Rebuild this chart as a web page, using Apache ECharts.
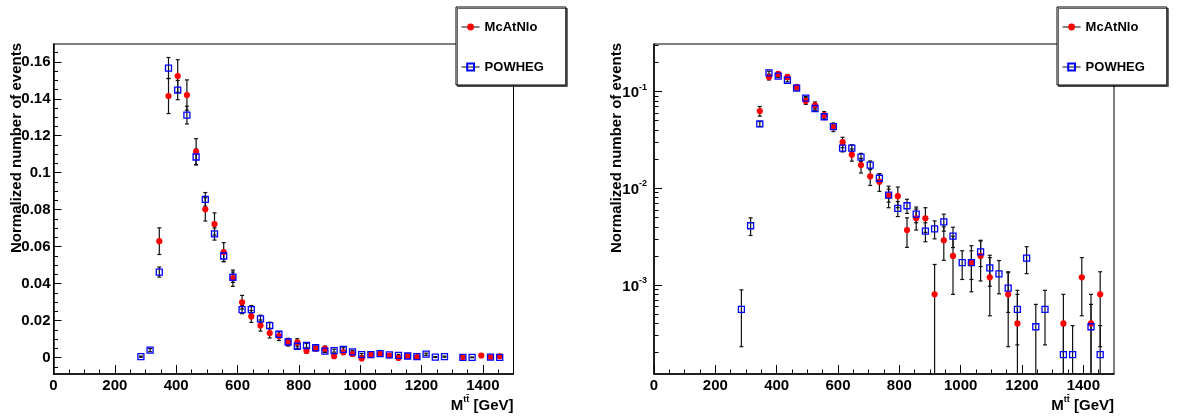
<!DOCTYPE html>
<html><head><meta charset="utf-8">
<script src="https://cdn.jsdelivr.net/npm/echarts@6/dist/echarts.min.js"></script>
<style>html,body{margin:0;padding:0;background:#fff}#c{width:1179px;height:419px}</style>
</head><body><div id="c"></div>
<script>
// ---- data (bin centres of M_tt in GeV, normalized counts, errors) ----
const binCenters = [285,315,345,375,405,435,465,495,525,555,585,615,645,675,705,735,765,795,825,855,885,915,945,975,1005,1035,1065,1095,1125,1155,1185,1215,1245,1275,1305,1335,1365,1395,1425,1455];
const mcatnlo    = [null,null,0.063,0.1415,0.1523,0.142,0.1114,0.0802,0.0723,0.0571,0.0430,0.0300,0.0223,0.0174,0.0133,0.0117,0.0084,0.0083,0.0037,0.0049,0.0049,0.0008,0.0029,0.0020,-0.0004,0.0017,0.0020,0.0012,-0.0001,0.0008,0.0004,null,null,null,null,0.0004,null,0.0012,0.0004,0.0008];
const mcatnloErr = [null,null,0.0072,0.0095,0.0088,0.0082,0.0070,0.0063,0.0060,0.0051,0.0044,0.0037,0.0032,0.0030,0.0026,0.0024,0.0021,0.0020,0.00125,0.0012,0.0014,0.00083,0.0011,0.0012,0.0004,0.00085,0.0009,0.00072,0.0001,0.00057,0.0004,null,null,null,null,0.0004,null,0.00072,0.0004,0.00057];
const powheg     = [0.00056,0.0041,0.0463,0.1566,0.1447,0.1312,0.1085,0.0856,0.0669,0.0550,0.0435,0.0260,0.0260,0.0210,0.0174,0.0127,0.0085,0.0062,0.0066,0.0054,0.0036,0.0038,0.0045,0.0032,0.0017,0.0017,0.0022,0.0015,0.0013,0.00093,0.00056,0.0019,0.00037,0.00056,null,0.00019,0.00019,null,0.00037,0.00019];
const powhegErr  = [0.00033,0.00085,0.0027,0.0057,0.0052,0.0048,0.0043,0.0037,0.0033,0.0031,0.0028,0.0022,0.0022,0.0020,0.0018,0.0015,0.0013,0.0011,0.0011,0.0010,0.0008,0.0008,0.0009,0.00076,0.00056,0.00056,0.00065,0.00053,0.00049,0.00041,0.00032,0.00059,0.00026,0.00032,null,0.00019,0.00019,null,0.00026,0.00019];
const seriesNames = ['McAtNlo','POWHEG'];
// ---- tick labels ----
const xMajorTicks = [0,200,400,600,800,1000,1200,1400];
const xMinorTicks = [50,100,150,250,300,350,450,500,550,650,700,750,850,900,950,1050,1100,1150,1250,1300,1350,1450];
const yLinMajorTicks = [0,0.02,0.04,0.06,0.08,0.1,0.12,0.14,0.16];
const yLinMinorTicks = [-0.005,0.005,0.01,0.015,0.025,0.03,0.035,0.045,0.05,0.055,0.065,0.07,0.075,0.085,0.09,0.095,0.105,0.11,0.115,0.125,0.13,0.135,0.145,0.15,0.155,0.165];
const yLogMajorTicks = [0.001,0.01,0.1];
const yLogMinorTicks = [0.0002,0.0003,0.0004,0.0005,0.0006,0.0007,0.0008,0.0009,0.002,0.003,0.004,0.005,0.006,0.007,0.008,0.009,0.02,0.03,0.04,0.05,0.06,0.07,0.08,0.09,0.2,0.3];
const xTitle = 'M';
const xTitleSup = 'tt\u0304';
const xTitleUnit = ' [GeV]';
const yTitle = 'Normalized number of events';

const LIN_MIN = -0.0088, LIN_MAX = 0.1696;
const LOG_MIN = 0.00012, LOG_MAX = 0.311;
const FONT = '"Liberation Sans", Arial, Helvetica, sans-serif';

function pts(vals, log) {
  const out = [];
  binCenters.forEach((x, i) => { const v = vals[i]; if (v == null) return; if (log && v <= 0) return; out.push([x, v]); });
  return out;
}
function errPts(vals, errs) {
  const out = [];
  binCenters.forEach((x, i) => { const v = vals[i]; if (v == null || errs[i] == null) return; out.push([x, v, errs[i]]); });
  return out;
}
function makeErr(log) {
  return function (params, api) {
    const x = api.value(0), v = api.value(1), e = api.value(2);
    let hi = v + e, lo = v - e, clampLo = false;
    if (log) { if (hi <= LOG_MIN) return; if (lo < LOG_MIN) { lo = LOG_MIN; clampLo = true; } }
    const p1 = api.coord([x, hi]), p2 = api.coord([x, lo]);
    const st = { stroke: '#111', lineWidth: 1.2 };
    const ch = [
      { type: 'line', shape: { x1: p1[0], y1: p1[1], x2: p2[0], y2: p2[1] }, style: st },
      { type: 'line', shape: { x1: p1[0] - 2, y1: p1[1], x2: p1[0] + 2, y2: p1[1] }, style: st }
    ];
    if (!clampLo) ch.push({ type: 'line', shape: { x1: p2[0] - 2, y1: p2[1], x2: p2[0] + 2, y2: p2[1] }, style: st });
    return { type: 'group', children: ch };
  };
}
const labelStyle = { color: '#000', fontFamily: FONT, fontWeight: 'bold', fontSize: 15 };
function xAxes(g) {
  return [
    { type: 'value', gridIndex: g, position: 'bottom', offset: 0, min: 0, max: 1500,
      axisLine: { show: true, onZero: false, lineStyle: { color: '#000', width: 1.5 } },
      axisTick: { show: true, inside: true, length: 9, customValues: xMajorTicks, lineStyle: { color: '#000', width: 1 } },
      axisLabel: Object.assign({ customValues: xMajorTicks, margin: 4, formatter: v => String(v) }, labelStyle),
      splitLine: { show: false } },
    { type: 'value', gridIndex: g, position: 'bottom', offset: 0, min: 0, max: 1500,
      axisLine: { show: false, onZero: false },
      axisTick: { show: true, inside: true, length: 4.5, customValues: xMinorTicks, lineStyle: { color: '#000', width: 1 } },
      axisLabel: { show: false }, splitLine: { show: false } }
  ];
}
const yAxes = [
  { type: 'value', gridIndex: 0, position: 'left', offset: 0, min: LIN_MIN, max: LIN_MAX,
    axisLine: { show: true, onZero: false, lineStyle: { color: '#000', width: 1.5 } },
    axisTick: { show: true, inside: true, length: 8, customValues: yLinMajorTicks, lineStyle: { color: '#000', width: 1 } },
    axisLabel: Object.assign({ customValues: yLinMajorTicks, margin: 3, formatter: v => String(v) }, labelStyle),
    splitLine: { show: false } },
  { type: 'value', gridIndex: 0, position: 'left', offset: 0, min: LIN_MIN, max: LIN_MAX,
    axisLine: { show: false, onZero: false },
    axisTick: { show: true, inside: true, length: 4.5, customValues: yLinMinorTicks, lineStyle: { color: '#000', width: 1 } },
    axisLabel: { show: false }, splitLine: { show: false } },
  { type: 'log', logBase: 10, gridIndex: 1, position: 'left', offset: 0, min: LOG_MIN, max: LOG_MAX,
    axisLine: { show: true, onZero: false, lineStyle: { color: '#000', width: 1.5 } },
    axisTick: { show: true, inside: true, length: 8, customValues: yLogMajorTicks, lineStyle: { color: '#000', width: 1 } },
    axisLabel: { customValues: yLogMajorTicks, margin: 7,
      formatter: v => '{b|10}{s|' + Math.round(Math.log10(v)) + '}',
      rich: {
        b: { color: '#000', fontFamily: FONT, fontWeight: 'bold', fontSize: 15, lineHeight: 18, verticalAlign: 'bottom' },
        s: { color: '#000', fontFamily: FONT, fontWeight: 'bold', fontSize: 9, lineHeight: 10, verticalAlign: 'top' }
      } },
    splitLine: { show: false } },
  { type: 'log', logBase: 10, gridIndex: 1, position: 'left', offset: 0, min: LOG_MIN, max: LOG_MAX,
    axisLine: { show: false, onZero: false },
    axisTick: { show: true, inside: true, length: 4.5, customValues: yLogMinorTicks, lineStyle: { color: '#000', width: 1 } },
    axisLabel: { show: false }, splitLine: { show: false } }
];

const redStyle = { color: '#ff0000' };
const blueStyle = { color: 'rgba(0,0,0,0)', borderColor: '#0000ff', borderWidth: 1.3 };
function markerSeries(name, data, xi, yi, isBlue) {
  return { type: 'line', name: name, data: data, xAxisIndex: xi, yAxisIndex: yi,
    symbol: isBlue ? 'rect' : 'circle', symbolSize: isBlue ? 6 : 6.2, showSymbol: true,
    color: isBlue ? '#0000ff' : '#ff0000',
    itemStyle: isBlue ? blueStyle : redStyle,
    lineStyle: { width: 0, opacity: 0 }, emphasis: { disabled: true },
    z: isBlue ? 4 : 3, clip: true, animation: false };
}
function errSeries(name, data, xi, yi, log) {
  return { type: 'custom', name: name, data: data, xAxisIndex: xi, yAxisIndex: yi,
    renderItem: makeErr(log), encode: { x: 0, y: 1 }, clip: true, z: 2, silent: true, animation: false };
}
function legendAt(left) {
  return { show: true, orient: 'vertical', left: left, top: 7, data: seriesNames,
    itemWidth: 18, itemHeight: 8.5, itemGap: 26, padding: [13, 22, 11, 5],
    backgroundColor: '#fff', borderColor: '#000', borderWidth: 1, borderRadius: 0,
    shadowColor: 'rgba(0,0,0,0.6)', shadowOffsetX: 1.5, shadowOffsetY: 1.5, shadowBlur: 0,
    selectedMode: false,
    lineStyle: { color: '#333', width: 1.2, opacity: 1 },
    textStyle: { color: '#000', fontFamily: FONT, fontWeight: 'bold', fontSize: 13, lineHeight: 14 } };
}
function yTitleGraphic(x) {
  return { type: 'text', x: x, y: 43, rotation: Math.PI / 2, z: 10,
    style: { text: yTitle, textAlign: 'right', textVerticalAlign: 'middle', fill: '#000', font: 'bold 15px ' + FONT } };
}
function xTitleGraphic(x) {
  return { type: 'text', x: x, y: 404, z: 10,
    style: { text: '{m|' + xTitle + '}{s|' + xTitleSup + '}{m|' + xTitleUnit + '}', textAlign: 'right', textVerticalAlign: 'middle',
      rich: {
        m: { fill: '#000', font: 'bold 15px ' + FONT, lineHeight: 18, verticalAlign: 'bottom' },
        s: { fill: '#000', font: 'bold 9px ' + FONT, lineHeight: 10, verticalAlign: 'top' }
      } } };
}

const chart = echarts.init(document.getElementById('c'), null, { renderer: 'canvas' });
chart.setOption({
  animation: false,
  backgroundColor: '#fff',
  grid: [
    { left: 53.5, top: 44, width: 460, height: 330, show: true, borderColor: '#000', borderWidth: 1, backgroundColor: 'transparent' },
    { left: 654, top: 44, width: 460, height: 330, show: true, borderColor: '#000', borderWidth: 1, backgroundColor: 'transparent' }
  ],
  xAxis: xAxes(0).concat(xAxes(1)),
  yAxis: yAxes,
  legend: [legendAt(456), legendAt(1057)],
  series: [
    markerSeries('McAtNlo', pts(mcatnlo, false), 0, 0, false),
    markerSeries('POWHEG', pts(powheg, false), 0, 0, true),
    markerSeries('McAtNlo', pts(mcatnlo, true), 2, 2, false),
    markerSeries('POWHEG', pts(powheg, true), 2, 2, true),
    errSeries('McAtNlo', errPts(mcatnlo, mcatnloErr), 0, 0, false),
    errSeries('POWHEG', errPts(powheg, powhegErr), 0, 0, false),
    errSeries('McAtNlo', errPts(mcatnlo, mcatnloErr), 2, 2, true),
    errSeries('POWHEG', errPts(powheg, powhegErr), 2, 2, true)
  ],
  graphic: [yTitleGraphic(16.6), yTitleGraphic(617), xTitleGraphic(513.5), xTitleGraphic(1114)]
});
</script>
</body></html>
